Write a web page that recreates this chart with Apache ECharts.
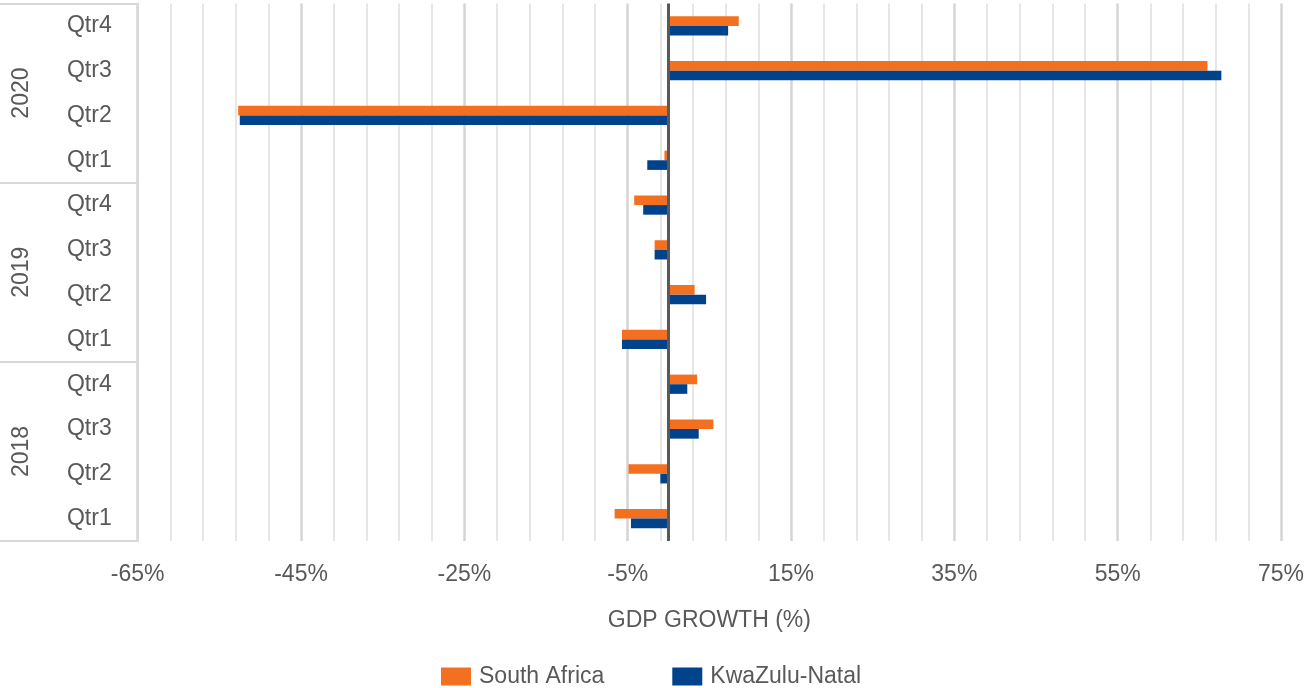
<!DOCTYPE html>
<html>
<head>
<meta charset="utf-8">
<script src="https://cdn.jsdelivr.net/npm/echarts@6/dist/echarts.min.js"></script>
<style>
html,body{margin:0;padding:0;background:#ffffff;}
#chart{width:1307px;height:688px;}
</style>
</head>
<body>
<div id="chart"></div>
<script>
// ---- data (bottom to top) ----
const years = ['2018', '2019', '2020'];
const quarters = ['Qtr1', 'Qtr2', 'Qtr3', 'Qtr4'];
const categories = [
  '2018 Qtr1', '2018 Qtr2', '2018 Qtr3', '2018 Qtr4',
  '2019 Qtr1', '2019 Qtr2', '2019 Qtr3', '2019 Qtr4',
  '2020 Qtr1', '2020 Qtr2', '2020 Qtr3', '2020 Qtr4'
];
const southAfrica = [-6.6, -4.9, 5.5, 3.5, -5.7, 3.2, -1.7, -4.2, -0.5, -52.7, 66.0, 8.6];
const kwaZuluNatal = [-4.6, -1.0, 3.7, 2.3, -5.7, 4.6, -1.7, -3.1, -2.6, -52.5, 67.7, 7.3];
const xMin = -65;
const xMax = 75;
const xStep = 20;
const seriesNames = ['South Africa', 'KwaZulu-Natal'];
const axisTitle = 'GDP GROWTH (%)';

// ---- chart ----
const FONT = "'Liberation Sans', Arial, sans-serif";
const TXT = '#595959';
const chart = echarts.init(document.getElementById('chart'), null, {renderer: 'canvas'});
chart.setOption({
  animation: false,
  textStyle: {fontFamily: FONT},
  grid: {left: 137.7, right: 24.3, top: 3.5, bottom: 147, containLabel: false},
  legend: {
    data: seriesNames,
    left: 441, top: 665, padding: 0,
    icon: 'rect', itemWidth: 30, itemHeight: 18, itemGap: 68,
    textStyle: {fontSize: 23, color: TXT, fontFamily: FONT, padding: [0, 0, 0, 3]}
  },
  xAxis: {
    type: 'value', min: xMin, max: xMax, interval: xStep,
    axisLine: {show: false}, axisTick: {show: false},
    axisLabel: {formatter: '{value}%', color: TXT, fontSize: 23, fontFamily: FONT, margin: 22},
    splitLine: {show: true, lineStyle: {color: '#d4d4d4', width: 2.5}},
    minorTick: {show: false, splitNumber: 5},
    minorSplitLine: {show: true, lineStyle: {color: '#dedede', width: 1.5}},
    name: axisTitle, nameLocation: 'middle', nameGap: 68,
    nameTextStyle: {color: TXT, fontSize: 23, fontFamily: FONT}
  },
  yAxis: [
    {
      type: 'category', data: categories, position: 'left',
      axisLine: {show: false, onZero: false}, axisTick: {show: false},
      splitLine: {show: false},
      axisLabel: {formatter: v => v.split(' ')[1], margin: 26, color: TXT, fontSize: 23, fontFamily: FONT}
    },
    {
      type: 'category', data: years, position: 'left',
      axisLine: {show: true, onZero: false, lineStyle: {color: '#d9d9d9', width: 2}},
      axisTick: {show: true, length: 138, lineStyle: {color: '#d9d9d9', width: 2}},
      splitLine: {show: false},
      axisLabel: {rotate: 90, margin: 105, color: TXT, fontSize: 23, fontFamily: FONT}
    }
  ],
  series: [
    {
      name: seriesNames[0], type: 'bar', yAxisIndex: 0, data: southAfrica,
      barGap: '0%', barCategoryGap: '57%',
      itemStyle: {color: '#F37021'},
      markLine: {
        silent: true, symbol: 'none', label: {show: false},
        lineStyle: {color: '#595959', width: 3, type: 'solid'},
        data: [{xAxis: 0}]
      }
    },
    {
      name: seriesNames[1], type: 'bar', yAxisIndex: 0, data: kwaZuluNatal,
      barGap: '0%', barCategoryGap: '57%',
      itemStyle: {color: '#00438A'}
    }
  ]
});
</script>
</body>
</html>
